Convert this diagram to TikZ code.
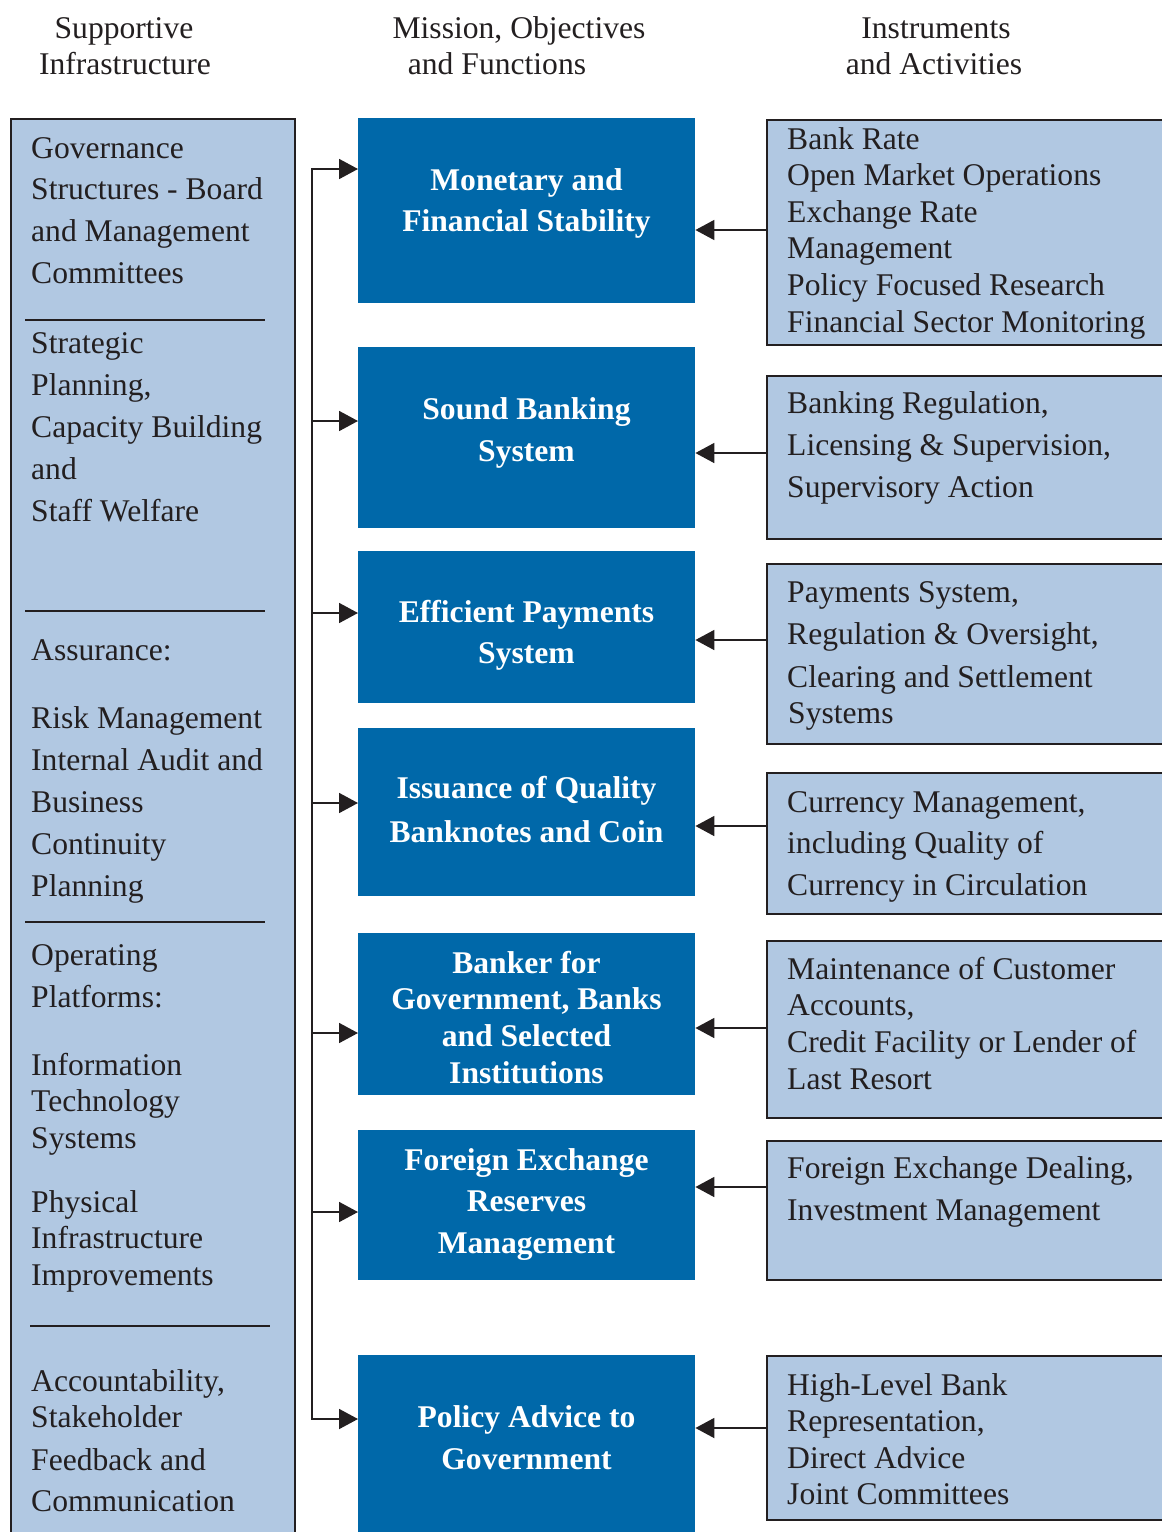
\documentclass[tikz,border=0pt]{standalone}
\usepackage{fontspec}
\setmainfont{Liberation Serif}
\usetikzlibrary{arrows.meta}
\definecolor{mainblue}{HTML}{0068A9}
\definecolor{paleblue}{HTML}{B1C8E2}
\definecolor{ink}{HTML}{231F20}

% a column of text lines: name prefix, style, x, first baseline, line step, lines
\newcommand{\linestack}[6]{%
  \foreach \ln [count=\k from 0] in {#6} {\node[#2] (#1-\k) at (#3,{#4+#5*\k}) {\ln};}}

\begin{document}
\begin{tikzpicture}[x=1pt,y=-1pt,
  txt/.style={font=\fontsize{31.6}{38}\selectfont, text=ink, inner sep=0pt, anchor=base west},
  head/.style={txt, anchor=base},
  btxt/.style={font=\fontsize{31.6}{38}\selectfont\bfseries, text=white, inner sep=0pt, anchor=base},
  panel/.style={draw=ink, line width=1.6pt, fill=paleblue, inner sep=0pt, anchor=north west},
  goal/.style={fill=mainblue, inner sep=0pt, anchor=north west, minimum width=337pt},
  activity/.style={panel, minimum width=409pt},
  link/.style={draw=ink, line width=1.8pt},
  feed/.style={link, -{Triangle[length=19pt,width=20pt]}},
  divider/.style={draw=ink, line width=1.6pt}]

\useasboundingbox (0,0) rectangle (1162,1532);
\clip (0,0) rectangle (1162,1532);

% column headings
\node[head] (h1a) at (124,38) {Supportive};
\node[head] (h1b) at (125,74) {Infrastructure};
\node[head] (h2a) at (519,38) {Mission, Objectives};
\node[head] (h2b) at (497,74) {and Functions};
\node[head] (h3a) at (936,38) {Instruments};
\node[head] (h3b) at (934,74) {and Activities};

% supportive infrastructure panel
\node[panel, minimum width=284pt, minimum height=1440pt] (infra) at (10,118) {};
\draw[divider] (25,320) -- (265,320);
\draw[divider] (25,611) -- (265,611);
\draw[divider] (25,922) -- (265,922);
\draw[divider] (30,1326) -- (270,1326);

\linestack{gov}{txt}{31}{158}{41.7}{Governance, Structures - Board, and Management, Committees}
\linestack{plan}{txt}{31}{353}{42}{Strategic, {Planning,}, Capacity Building, and, Staff Welfare}
\node[txt] (assur) at (31,660) {Assurance:};
\linestack{risk}{txt}{31}{728}{42}{Risk Management, Internal Audit and, Business, Continuity, Planning}
\linestack{ops}{txt}{31}{965}{42}{Operating, Platforms:}
\linestack{it}{txt}{31}{1075}{36.5}{Information, Technology, Systems}
\linestack{phys}{txt}{31}{1212}{36.5}{Physical, Infrastructure, Improvements}
\linestack{acc}{txt}{31}{1391}{36}{{Accountability,}, Stakeholder}
\linestack{fb}{txt}{31}{1470}{41}{Feedback and, Communication}

% mission boxes
\node[goal, minimum height=185pt] (m1) at (358,118) {};
\node[goal, minimum height=181pt] (m2) at (358,347) {};
\node[goal, minimum height=152pt] (m3) at (358,551) {};
\node[goal, minimum height=168pt] (m4) at (358,728) {};
\node[goal, minimum height=162pt] (m5) at (358,933) {};
\node[goal, minimum height=150pt] (m6) at (358,1130) {};
\node[goal, minimum height=190pt] (m7) at (358,1355) {};

\linestack{b1}{btxt}{526.5}{190}{41}{Monetary and, Financial Stability}
\linestack{b2}{btxt}{526.5}{419}{42}{Sound Banking, System}
\linestack{b3}{btxt}{526.5}{622}{41}{Efficient Payments, System}
\linestack{b4}{btxt}{526.5}{798}{44}{Issuance of Quality, Banknotes and Coin}
\linestack{b5}{btxt}{526.5}{973}{36.7}{Banker for, {Government, Banks}, and Selected, Institutions}
\linestack{b6}{btxt}{526.5}{1170}{41.5}{Foreign Exchange, Reserves, Management}
\linestack{b7}{btxt}{526.5}{1427}{42}{Policy Advice to, Government}

% instrument panels
\node[activity, minimum height=225pt] (r1) at (766,119) {};
\node[activity, minimum height=163pt] (r2) at (766,375) {};
\node[activity, minimum height=180pt] (r3) at (766,563) {};
\node[activity, minimum height=141pt] (r4) at (766,772) {};
\node[activity, minimum height=177pt] (r5) at (766,940) {};
\node[activity, minimum height=139pt] (r6) at (766,1140) {};
\node[activity, minimum height=164pt] (r7) at (766,1355) {};

\linestack{i1}{txt}{787}{149}{36.6}{Bank Rate, Open Market Operations, Exchange Rate, Management, Policy Focused Research, Financial Sector Monitoring}
\linestack{i2}{txt}{787}{413}{42}{{Banking Regulation,}, {Licensing \& Supervision,}, Supervisory Action}
\linestack{i3}{txt}{787}{602}{42.5}{{Payments System,}, {Regulation \& Oversight,}, Clearing and Settlement}
\node[txt] (i3-3) at (788,723) {Systems};
\linestack{i4}{txt}{787}{812}{41.5}{{Currency Management,}, including Quality of, Currency in Circulation}
\linestack{i5}{txt}{787}{979}{36.7}{Maintenance of Customer, {Accounts,}, Credit Facility or Lender of, Last Resort}
\linestack{i6}{txt}{787}{1178}{42.5}{{Foreign Exchange Dealing,}, Investment Management}
\linestack{i7}{txt}{787}{1395}{36.5}{High-Level Bank, {Representation,}, Direct Advice, Joint Committees}

% distribution spine feeding every mission box
\coordinate (s1) at (312,169);
\coordinate (s2) at (312,421);
\coordinate (s3) at (312,613);
\coordinate (s4) at (312,803);
\coordinate (s5) at (312,1033);
\coordinate (s6) at (312,1212);
\coordinate (s7) at (312,1419);
\draw[link, line cap=rect] (s1) -- (s7);
\foreach \n in {1,...,7} {\draw[feed] (s\n) -- (s\n -| m\n.west);}

% instruments feeding their mission box
\coordinate (t1) at (766,230);
\coordinate (t2) at (766,453);
\coordinate (t3) at (766,640);
\coordinate (t4) at (766,826);
\coordinate (t5) at (766,1028);
\coordinate (t6) at (766,1187);
\coordinate (t7) at (766,1428);
\foreach \n in {1,...,7} {\draw[feed] (t\n) -- (t\n -| m\n.east);}
\end{tikzpicture}
\end{document}
